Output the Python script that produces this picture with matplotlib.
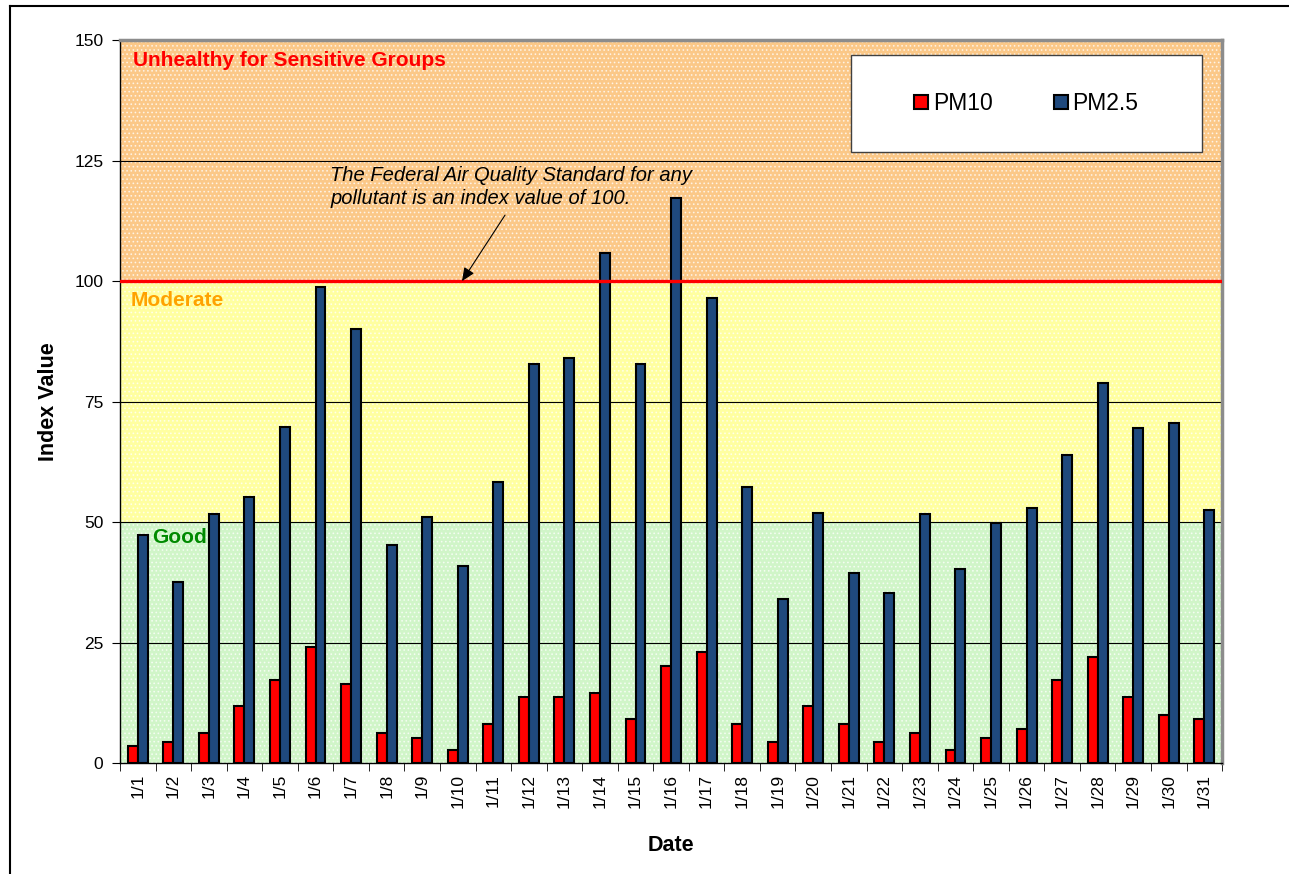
import matplotlib.pyplot as plt
import numpy as np
import matplotlib
from matplotlib.lines import Line2D
from matplotlib.patches import Rectangle

matplotlib.rcParams['font.family'] = ['Liberation Sans', 'DejaVu Sans']
matplotlib.rcParams['hatch.linewidth'] = 0.7

# daily index values, January
dates = ['1/%d' % d for d in range(1, 32)]
pm10 = [3.5, 4.4, 6.2, 11.8, 17.2, 24.1, 16.4, 6.2, 5.2, 2.7,
        8.1, 13.7, 13.7, 14.5, 9.1, 20.1, 23.0, 8.1, 4.4, 11.8,
        8.1, 4.4, 6.2, 2.7, 5.2, 7.1, 17.2, 22.0, 13.7, 10.0, 9.1]
pm25 = [47.3, 37.6, 51.7, 55.2, 69.7, 98.8, 90.0, 45.2, 51.0, 40.9,
        58.3, 82.8, 84.0, 105.8, 82.8, 117.2, 96.5, 57.3, 34.0, 51.9,
        39.4, 35.3, 51.7, 40.2, 49.8, 52.9, 63.9, 78.8, 69.5, 70.5, 52.5]

# AQI bands
bands = [(0, 50, '#d0f5c8'), (50, 100, '#ffffa0'), (100, 150, '#fbc888')]

fig = plt.figure(figsize=(12.89, 8.74), dpi=100)
ax = fig.add_axes([0.0931, 0.127, 0.855, 0.827])

x = np.arange(len(dates))
w = 0.28

for lo, hi, c in bands:
    ax.axhspan(lo, hi, facecolor=c, edgecolor='#ffffffb0', hatch='....', linewidth=0, zorder=0)

for yv in [25, 50, 75, 125]:
    ax.axhline(yv, color='black', lw=0.8, zorder=1)

ax.bar(x - w / 2, pm10, w, color='#ff0000', edgecolor='black', lw=1.5, label='PM10', zorder=2)
ax.bar(x + w / 2, pm25, w, color='#1f497d', edgecolor='black', lw=1.5, label='PM2.5', zorder=2)

ax.axhline(100, color='#ff0000', lw=2.4, zorder=3)

ax.set_xlim(-0.5, len(dates) - 0.5)
ax.set_ylim(0, 150)
ax.set_yticks(np.arange(0, 151, 25))
ax.set_xticks(x)
ax.set_xticklabels(dates, rotation=90)
ax.set_xticks(np.arange(-0.5, len(dates), 1), minor=True)
ax.tick_params(axis='x', which='major', length=0, labelsize=12.5, pad=8)
ax.tick_params(axis='x', which='minor', length=6, direction='out')
ax.tick_params(axis='y', length=6, direction='out', labelsize=12.5, pad=6)

for s in ['top', 'right']:
    ax.spines[s].set_color('#8c8c8c')
    ax.spines[s].set_linewidth(2.5)
ax.spines['left'].set_linewidth(1.0)
ax.spines['bottom'].set_linewidth(1.0)

ax.set_ylabel('Index Value', fontsize=15.5, fontweight='bold', labelpad=11)
ax.set_xlabel('Date', fontsize=15.5, fontweight='bold', labelpad=19)

ax.text(-0.13, 145.8, 'Unhealthy for Sensitive Groups', color='#ff0000', fontsize=15,
        fontweight='bold', va='center', zorder=4)
ax.text(-0.2, 96.0, 'Moderate', color='#ffa200', fontsize=15, fontweight='bold', va='center', zorder=4)
ax.text(0.4, 46.8, 'Good', color='#008a00', fontsize=15, fontweight='bold', va='center', zorder=4)

ax.text(5.41, 119.5, 'The Federal Air Quality Standard for any\npollutant is an index value of 100.',
        fontsize=14.5, style='italic', ha='left', va='center', linespacing=1.3, zorder=4)
ax.annotate('', xy=(9.12, 100), xytext=(10.33, 113.7), zorder=4,
            arrowprops=dict(arrowstyle='-|>,head_length=0.8,head_width=0.35', color='black',
                            lw=0.8, shrinkA=0, shrinkB=0))

# legend box
ax.add_patch(Rectangle((0.663, 0.846), 0.319, 0.133, transform=ax.transAxes,
                       facecolor='white', edgecolor='#404040', lw=1.0, zorder=5))
ax.legend(loc='center', bbox_to_anchor=(0.663, 0.846, 0.319, 0.133), ncol=2, frameon=False,
          fontsize=16.5, handlelength=0.6, handleheight=0.6, handletextpad=0.2,
          columnspacing=2.7).set_zorder(6)

# figure border (top and left)
fig.add_artist(Line2D([0.0078, 1.0], [0.9931, 0.9931], color='black', lw=1.5))
fig.add_artist(Line2D([0.0078, 0.0078], [0.0, 0.9931], color='black', lw=1.5))

fig.savefig('out.png', dpi=100)
